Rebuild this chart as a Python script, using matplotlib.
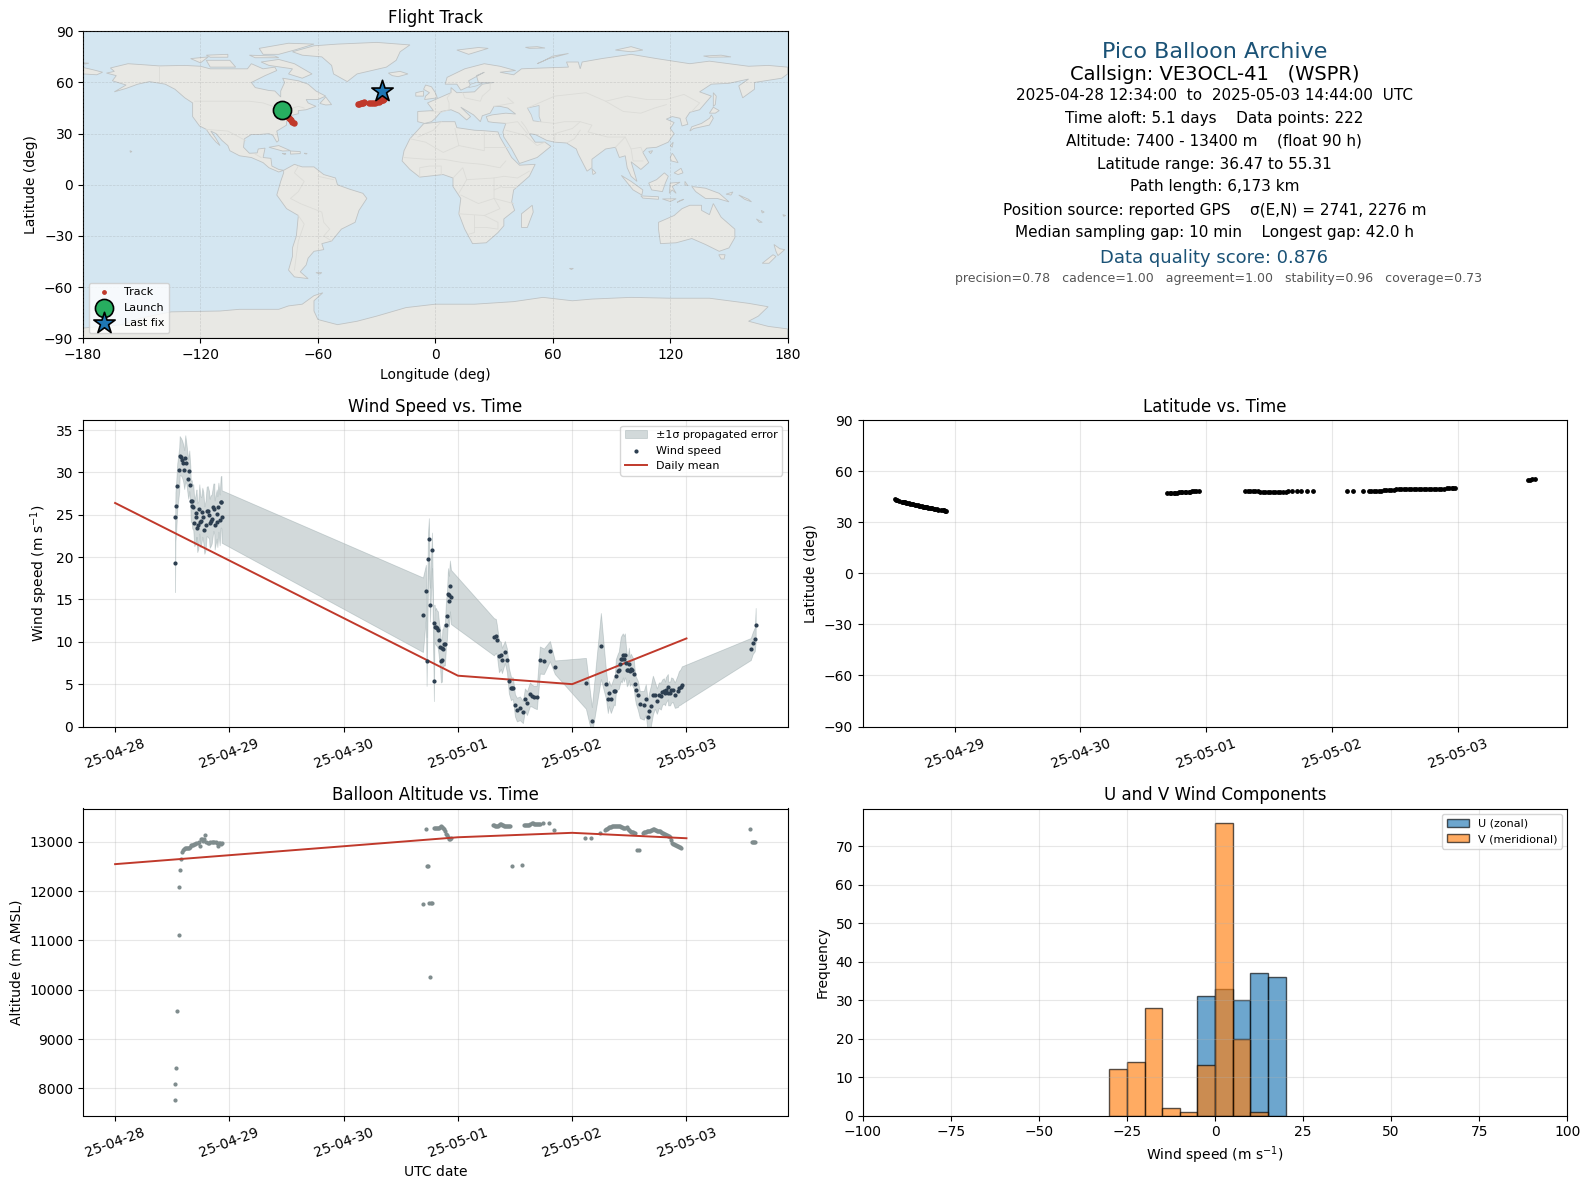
import pandas as pd
import numpy as np
import matplotlib
matplotlib.use("Agg")
import matplotlib.pyplot as plt
import matplotlib.dates as mdates
from matplotlib.patches import Polygon

# days since 2025-04-28 00:00 UTC
wind_days = [.524,.528,.535,.544,.561,.565,.579,.588,.596,.605,.614,.623,.640,.649,.658,.662,.670,.675,.684,.693,
             .708,.712,.719,.728,.737,.746,.754,.763,.772,.781,.792,.801,.810,.822,.827,.836,.845,.860,.868,.871,
             .889,.895,.904,.915,.924,.930,.933,
             2.694,2.720,2.726,2.738,2.746,2.755,2.773,2.790,2.794,2.799,2.808,2.816,2.825,2.834,2.843,2.851,2.860,2.864,
             2.869,2.878,2.886,2.895,2.904,2.913,2.921,2.925,2.930,2.939,
             3.315,3.332,3.341,3.359,3.376,3.385,3.411,3.429,3.446,3.464,3.472,3.481,3.499,3.516,3.542,3.569,3.586,3.604,
             3.630,3.647,3.665,3.691,3.717,3.752,3.805,3.848,
             4.120,4.172,4.251,4.295,4.312,4.321,4.338,4.365,4.373,4.382,4.399,4.408,4.417,4.426,4.434,4.443,4.452,4.461,
             4.470,4.478,4.487,4.496,4.504,4.513,4.522,4.539,4.548,4.557,4.574,4.592,4.627,4.644,4.662,4.671,4.688,4.706,
             4.723,4.741,4.758,4.776,4.787,4.802,4.813,4.819,4.837,4.840,4.857,4.866,4.880,4.898,4.924,4.933,4.950,4.959,
             5.563,5.580,5.598,5.606]
wind_speed = [19.3,24.8,26.1,28.4,30.35,32.0,31.8,31.5,31.1,30.35,31.7,31.1,29.2,30.2,28.5,26.6,26.6,26.0,25.9,24.0,
              24.7,25.2,23.5,23.8,25.7,24.2,24.3,25.3,24.7,23.2,23.8,25.4,25.4,25.0,24.0,24.3,24.5,25.9,25.7,23.8,
              25.1,24.2,25.9,24.4,26.5,26.5,24.8,
              13.2,16.0,7.7,19.8,22.1,14.4,20.8,5.4,12.2,11.8,11.8,11.6,11.4,10.2,9.4,7.7,7.8,9.3,
              9.2,9.7,9.7,12.0,13.1,15.7,14.8,15.5,16.6,15.3,
              10.6,10.7,10.2,8.3,8.4,7.8,8.8,7.8,5.4,4.5,4.5,4.5,2.5,2.0,2.15,1.7,3.2,2.75,
              3.8,3.65,3.5,3.45,7.85,7.7,8.9,7.0,
              5.1,0.7,9.5,5.0,3.2,3.9,3.2,4.2,4.2,5.95,6.5,6.65,7.4,8.0,8.0,8.4,8.0,8.4,
              7.5,6.65,6.65,7.4,6.5,6.8,6.65,6.2,5.0,4.3,3.7,2.6,2.5,3.2,1.1,1.8,2.4,3.7,
              3.7,3.0,3.7,3.6,4.05,4.2,3.9,4.3,4.7,3.9,3.9,4.3,4.3,3.7,4.2,4.5,4.7,4.9,
              9.15,9.85,10.3,12.0]
wind_err = [3.4,2.9,2.9,2.7,2.6,2.3,2.2,2.2,2.2,2.3,2.7,2.4,2.3,2.4,2.3,2.4,2.5,2.6,2.7,2.7,
            2.9,2.8,2.9,2.8,2.9,3.0,2.8,2.9,3.0,2.8,2.9,2.9,3.0,2.8,2.9,3.0,2.9,2.8,3.0,2.9,
            2.9,3.0,2.9,3.0,3.0,3.1,3.1,
            4.4,3.1,2.9,3.0,2.5,2.0,2.1,2.4,2.2,2.0,2.2,2.1,2.2,2.1,2.2,2.5,2.5,2.2,
            2.3,2.4,2.5,2.7,2.8,3.0,3.0,3.1,3.0,3.2,
            2.2,2.0,1.8,1.9,1.6,1.5,1.3,1.4,1.5,1.4,1.3,1.3,1.3,1.4,1.4,1.3,1.3,1.4,
            1.4,1.3,1.3,1.4,1.6,1.5,1.2,0.8,
            3.0,1.6,3.9,1.7,1.6,1.5,1.6,1.6,1.7,2.0,2.1,2.2,2.4,2.6,2.8,2.6,2.7,2.6,
            2.0,1.9,1.7,1.9,1.7,1.8,1.7,1.7,1.6,1.6,1.7,1.6,1.7,1.8,1.9,2.1,2.4,2.3,
            1.6,1.5,1.5,1.6,1.5,1.5,1.4,1.5,1.5,1.4,1.4,1.5,1.4,1.5,1.9,2.0,2.1,2.2,
            1.3,1.3,1.4,2.0]

daily_days = [0, 2, 3, 4, 5]
daily_wind = [26.4, 12.8, 6.0, 5.0, 10.4]
daily_alt = [12545, 12908, 13090, 13180, 13070]

alt_days = [.526,.528,.535,.544,.561,.563,.570,.579,.588,.596,.605,.614,.623,.632,.640,.649,.658,.667,.675,.684,.693,
            .702,.711,.728,.737,.746,.754,.763,.772,.781,.790,.798,.810,.822,.833,.845,.857,.868,.880,.892,.901,.910,.921,.930,.939,
            2.693,2.719,2.728,2.737,2.746,2.754,2.763,2.772,2.789,2.798,2.807,2.816,2.825,2.833,2.842,2.851,2.860,2.868,2.877,2.886,
            2.895,2.904,2.912,2.921,2.930,2.939,
            3.309,3.318,3.327,3.335,3.344,3.353,3.362,3.370,3.379,3.388,3.397,3.405,3.414,3.423,3.432,3.440,3.449,3.458,
            3.475,3.563,3.580,3.589,3.598,3.606,3.615,3.624,3.633,3.650,3.659,3.668,3.676,3.685,3.694,3.703,3.711,3.720,3.746,3.799,3.843,
            4.114,4.166,4.245,4.289,4.297,4.306,4.315,4.324,4.332,4.341,4.350,4.359,4.367,4.376,4.385,4.394,4.402,4.411,4.420,4.429,
            4.437,4.446,4.455,4.464,4.481,4.490,4.499,4.507,4.516,4.525,4.534,4.542,4.551,4.569,4.586,
            4.621,4.630,4.639,4.647,4.656,4.665,4.673,4.682,4.691,4.700,4.708,4.717,4.726,4.735,4.743,4.752,4.761,4.770,4.778,4.787,
            4.796,4.805,4.813,4.822,4.831,4.840,4.848,4.857,4.866,4.875,4.883,4.892,4.901,4.910,4.918,4.927,4.936,4.945,4.954,
            5.557,5.574,5.583,5.592,5.601]
altitude = [7760,8080,8405,9560,11100,12075,12420,12640,12785,12830,12850,12870,12880,12880,12880,12880,12900,12925,12940,12940,12950,
            12950,12965,12965,12990,12920,13050,13050,13020,13050,13130,13000,12980,12980,12990,12990,12990,12990,12995,12980,12910,12980,12965,12945,12965,
            11730,13250,12500,12500,11750,10250,11750,11750,13285,13285,13285,13270,13270,13285,13300,13320,13300,13270,13250,13210,
            13150,13130,13090,13050,13050,13070,
            13340,13340,13325,13315,13315,13325,13340,13360,13365,13340,13330,13320,13320,13320,13320,13320,13320,13320,
            12505,12525,13340,13340,13340,13340,13340,13345,13350,13370,13370,13360,13360,13360,13360,13360,13360,13360,13380,13380,13235,
            13075,13075,13170,13235,13250,13265,13275,13290,13297,13305,13310,13312,13318,13318,13318,13318,13318,13310,13310,13305,
            13290,13270,13270,13270,13290,13255,13240,13220,13195,13190,13190,13175,13175,12830,12830,
            13175,13195,13195,13200,13210,13210,13215,13220,13235,13240,13250,13250,13240,13235,13215,13210,13210,13210,13195,13175,
            13170,13160,13155,13140,13135,13125,13115,13100,13035,12965,12950,12950,12935,12925,12915,12905,12895,12885,12870,
            13257,13000,13000,13000,13000]

lat_days = [.524,.535,.544,.561,.579,.588,.596,.605,.614,.623,.640,.649,.658,.670,.684,.693,.708,.719,.728,.737,.746,.754,.763,.772,.781,
            .792,.801,.810,.822,.836,.845,.860,.871,.889,.904,.915,.924,.933,
            2.69,2.71,2.72,2.74,2.75,2.77,2.78,2.80,2.81,2.83,2.84,2.86,2.87,2.89,2.90,2.92,2.94,
            3.31,3.33,3.35,3.37,3.39,3.41,3.43,3.45,3.47,3.49,3.51,3.53,3.55,3.57,3.59,3.61,3.63,3.65,3.68,3.72,3.75,3.80,3.85,
            4.115,4.164,4.243,4.29,4.31,4.33,4.35,4.37,4.39,4.41,4.43,4.45,4.47,4.49,4.51,4.53,4.55,4.57,4.59,4.61,4.63,4.65,4.67,
            4.69,4.71,4.73,4.75,4.77,4.79,4.81,4.83,4.85,4.87,4.89,4.91,4.93,4.95,4.96,4.98,
            5.56,5.57,5.59,5.61]
latitude = [43.4,43.1,42.9,42.5,42.1,41.9,41.7,41.6,41.4,41.2,41.0,40.8,40.7,40.4,40.2,40.1,39.8,39.6,39.5,39.3,39.2,39.1,39.0,38.8,38.7,
            38.5,38.4,38.3,38.1,37.9,37.8,37.6,37.4,37.2,37.0,36.9,36.7,36.5,
            47.1,47.1,47.2,47.3,47.3,47.4,47.5,47.6,47.6,47.7,47.8,47.9,48.0,48.1,48.2,48.2,48.3,
            48.3,48.3,48.3,48.3,48.2,48.2,48.0,47.9,47.7,47.6,47.6,47.5,47.6,47.6,47.7,47.8,48.0,48.1,48.2,48.2,48.2,48.2,48.2,
            48.2,48.2,48.2,48.1,48.1,48.1,48.2,48.3,48.5,48.6,48.7,48.7,48.8,49.1,49.2,49.3,49.3,49.3,49.3,49.3,49.3,49.4,49.4,
            49.4,49.4,49.5,49.5,49.5,49.5,49.5,49.5,49.6,49.6,49.7,49.9,50.0,50.1,50.2,50.2,
            54.7,55.0,55.2,55.3]

track_lon = [-78.5,-77.8,-77,-76.2,-75.5,-74.8,-74.1,-73.5,-73,-72.4,
             -39.7,-39,-38.2,-37.5,-36.8,-36.3,
             -33.8,-33,-32,-31,-30,-29,-28.2,-27.5,-26.8,-26.2,-27.3]
track_lat = [43.4,42.4,41.6,40.8,40,39.2,38.6,37.8,37.1,36.5,
             47.1,47.4,47.7,48,48.2,48.3,
             48,48,48.1,48.2,48.4,48.7,49.1,49.5,50,50.4,55.1]
launch_lon, launch_lat = -78.5, 43.6
last_lon, last_lat = -27.3, 55.1

hist_edges = list(range(-100, 105, 5))
u_left = [-5, 0, 5, 10, 15]
u_count = [31, 33, 30, 37, 36]
v_left = [-30, -25, -20, -15, -10, -5, 0, 5, 10]
v_count = [12, 14, 28, 2, 1, 13, 76, 20, 1]

info_lines = [
    ("Pico Balloon Archive", 16, "#1a5276", 51.5),
    ("Callsign: VE3OCL-41   (WSPR)", 14, "black", 74),
    ("2025-04-28 12:34:00  to  2025-05-03 14:44:00  UTC", 11, "black", 95),
    ("Time aloft: 5.1 days    Data points: 222", 11, "black", 118),
    ("Altitude: 7400 - 13400 m    (float 90 h)", 11, "black", 141),
    ("Latitude range: 36.47 to 55.31", 11, "black", 164),
    ("Path length: 6,173 km", 11, "black", 187),
    ("Position source: reported GPS    \u03c3(E,N) = 2741, 2276 m", 11, "black", 210),
    ("Median sampling gap: 10 min    Longest gap: 42.0 h", 11, "black", 233),
    ("Data quality score: 0.876", 13, "#1a5276", 258),
]
score_parts = "precision=0.78   cadence=1.00   agreement=1.00   stability=0.96   coverage=0.73"

# rough land outlines (lon, lat), no basemap package available here
land = {
    "north_america": [(-168,65.5),(-164,66.5),(-166,68.5),(-157,71),(-148,70.3),(-141,69.7),(-128,70),(-120,69.5),(-115,68),(-108,68),(-96,68),(-94,71),(-88,68),(-82,69),(-81,67),(-87,64),(-94,60),(-92,57),(-85,55.3),(-82,55),(-79,51.5),(-79,55),(-77,60),(-78,62.5),(-70,61),(-65,59),(-61,55),(-56,52),(-60,50),(-66,50),(-65,48),(-61,46),(-66,44),(-70,43.5),(-70,41.7),(-74,40.5),(-76,37),(-76,35),(-81,31.5),(-80,26),(-81,25),(-83,29),(-85,30),(-90,29.5),(-94,29.5),(-97.5,27),(-98,22),(-95,18.5),(-91,18.7),(-90.5,21),(-87,21.5),(-88,16),(-84,15.5),(-83.5,11),(-80,9),(-77.5,8.5),(-80,7.5),(-85,10),(-88,13),(-94,16),(-100,17),(-105,20),(-106,23),(-109,26),(-112,30),(-114.7,31.5),(-112,27),(-110,23),(-112,25),(-115,29),(-117,32.5),(-120.5,34.5),(-124,40),(-124,48),(-128,51),(-133,56),(-138,59),(-146,60.5),(-152,59),(-158,56.5),(-164,54.5),(-158,58.5),(-165,61),(-163,64)],
    "south_america": [(-77.5,8.5),(-72,12),(-68,10.5),(-62,10.5),(-57,6),(-51,4),(-50,0),(-44,-2.5),(-37,-5),(-35,-8),(-39,-15),(-41,-22),(-48,-26),(-53,-33),(-58,-34.5),(-57,-38),(-62,-39),(-65,-43),(-66,-47),(-69,-51),(-65,-55),(-72,-54),(-75,-50),(-73,-42),(-73,-37),(-71,-30),(-70,-18),(-76,-14),(-81,-6),(-80,-2),(-79,2),(-77.5,7)],
    "greenland": [(-73,78),(-68,76),(-58,75),(-53,70),(-52,65),(-45,60.5),(-40,65),(-25,69),(-20,73),(-18,78),(-13,82),(-30,83.5),(-50,82.5),(-62,81.5)],
    "africa": [(-6,35.8),(3,37),(10,37),(11,33.5),(20,32),(25,31.7),(32,31),(33,28),(36,22),(39,16),(43,11.5),(51,12),(48,5),(40,-3),(39,-10),(40.5,-15),(35,-20),(35,-24),(32,-28),(26,-34),(19,-34.5),(15,-26),(12,-17),(13,-8),(9,-1),(9,4),(4,6),(-4,5),(-8,4.5),(-13,9),(-17,14),(-16,20),(-13,27),(-9,32)],
    "eurasia": [(-9,37),(-9,43),(-1,43.5),(-4,48),(2,51),(8,54),(8,57),(11,54),(20,54.5),(24,59),(30,60),(22,60),(21,64),(25,66),(17,61),(18,58),(13,55.5),(11,59),(5,59),(6,63),(15,68),(25,71),(33,69.5),(41,67),(33,66),(40,64.5),(44,68),(55,68.5),(68,69),(67,72),(73,72),(74,68),(75,72),(85,74),(100,76.5),(113,74),(130,71),(140,72.5),(160,69.5),(170,70),(180,69),(180,65),(177,62.5),(163,60),(163,56),(157,51),(155,58),(160,62),(150,59.5),(141,59),(135,54.5),(141,52),(135,44),(130,42.5),(128,39),(129,35.5),(126,34.5),(125,39),(121,40),(118,38.5),(122,36.5),(120,33),(122,30),(119,25),(113,22),(108,21.5),(106,19),(109,13),(105,9),(100,13.5),(103,2),(100,5),(98,10),(97,17),(94,16),(92,22),(87,21),(80,15),(80,10),(77.5,8),(73,18),(72,21),(67,24.5),(61,25),(57,26),(51,29.5),(48,30),(51,25),(56,25),(59,22.5),(52,16),(43,12.5),(39,21),(35,28),(34.5,31),(36,36),(30,36.5),(27,37),(26,40),(29,41),(36,42),(41,41.5),(37,45),(33,46),(30,46),(28,42),(24,40.5),(23,37),(19.5,41),(13,45.5),(18,40),(16,38),(12,42),(8,44),(3,43),(0,39),(-2,37),(-5.5,36)],
    "australia": [(114,-22),(122,-18),(126,-14),(130,-12),(136,-12),(136,-15),(140,-17.5),(142,-11),(146,-19),(153,-26),(153,-31),(150,-37),(145,-39),(138,-35),(131,-31.5),(123,-34),(115,-34.5),(114,-26)],
    "antarctica": [(-180,-84),(-160,-82),(-150,-78),(-135,-74.5),(-110,-74),(-100,-73),(-80,-73),(-75,-71),(-68,-70),(-62,-65),(-57.5,-63.3),(-62,-68),(-62,-74),(-60,-79),(-50,-82),(-40,-80),(-30,-77),(-15,-72),(0,-70),(20,-70),(40,-68.5),(55,-66),(70,-68),(80,-67),(100,-66),(120,-66.5),(140,-66.5),(160,-69.5),(170,-71.5),(165,-77),(160,-80),(170,-83),(180,-84.5),(180,-90),(-180,-90)],
    "chukotka_west": [(-180,65),(-180,68.8),(-175,67.5),(-170,66),(-173,64.5)],
    "baffin": [(-80,73.5),(-72,71),(-66,67),(-63,65),(-68,62.5),(-75,65),(-73,68),(-85,70),(-89,72)],
    "victoria": [(-117,73),(-105,73),(-102,69),(-115,69)],
    "banks": [(-125,74),(-116,75),(-120,71.5)],
    "ellesmere": [(-90,80),(-75,83),(-62,82.5),(-72,79),(-80,76.5),(-88,76.5)],
    "devon": [(-95,76),(-82,75.5),(-80,74.5),(-92,74.5)],
    "melville": [(-117,76),(-106,76.5),(-106,74.8),(-115,74.8)],
    "newfoundland": [(-59,47.7),(-56,51.5),(-53,47),(-56,46.8)],
    "cuba": [(-85,22),(-80,23),(-74,20),(-78,19.8)],
    "hispaniola": [(-74,19.8),(-69,19.5),(-69,18.3),(-74,18)],
    "puerto_rico": [(-67,18.5),(-65.5,18.4),(-66,18)],
    "jamaica": [(-78.3,18.4),(-76.3,18.2),(-77,17.8)],
    "hawaii": [(-156,20),(-155,19.5),(-155.8,19)],
    "iceland": [(-24,65.5),(-18,66.5),(-14,65),(-19,63.4),(-22,64)],
    "uk": [(-5.5,50),(1,51),(0,54),(-2,57.5),(-5,58.5),(-6,56),(-3,54),(-5,52)],
    "ireland": [(-10,52),(-6,52),(-6,55),(-10,54)],
    "svalbard": [(11,79),(22,80.5),(27,80),(17,76.5)],
    "franz_josef": [(46,80.6),(52,81),(56,80.2),(48,80)],
    "novaya_zemlya": [(52,71),(58,74),(68,77),(60,75.5),(55,72.5)],
    "severnaya": [(92,79),(100,81),(106,79),(100,78)],
    "new_siberian": [(137,75.5),(146,76),(151,75),(140,74.8)],
    "wrangel": [(-180,71.5),(-177,71.3),(-179,70.8)],
    "japan": [(130,31.5),(131,34),(136,36),(140,39),(141,41),(142,39),(140,35),(136,34),(132,33)],
    "hokkaido": [(140,42),(142,45.5),(145,43.5),(143,42)],
    "sakhalin": [(142,46),(142,54),(143.5,52),(143,47)],
    "taiwan": [(120,23),(121.5,25),(121,22)],
    "hainan": [(109,19.5),(111,20),(110,18.3)],
    "luzon": [(120,16),(121,18.5),(122,17),(124,13),(120.5,14)],
    "mindanao": [(122,7),(125.5,9.7),(126.5,7),(124,6)],
    "borneo": [(109,1),(113,3),(117,7),(119,5),(117.5,1),(116,-4),(110.5,-3)],
    "sumatra": [(95,5.5),(100,2),(106,-3),(105.5,-6),(101,-3)],
    "java": [(105,-6.5),(114,-7),(114,-8.5),(106,-7.8)],
    "lesser_sunda": [(116,-8.3),(123,-8.2),(120,-9.8)],
    "timor": [(123.5,-10.3),(127,-8.5),(125,-9.2)],
    "sulawesi": [(119.5,-5),(120,1),(125,1.5),(121,-1),(123,-5),(121,-3)],
    "halmahera": [(127.5,2),(129,-0.5),(127.5,0)],
    "new_guinea": [(131,-1),(138,-2),(145,-5),(150,-10),(144,-8),(138,-8),(133,-4)],
    "new_britain": [(148.5,-5.5),(152,-4.2),(151,-6)],
    "solomons": [(155,-6),(160,-8.5),(161.5,-10),(158,-8.5)],
    "vanuatu": [(166.5,-15),(168,-16),(167,-16.5)],
    "new_caledonia": [(164,-20),(167,-22),(165.5,-22)],
    "fiji": [(177.5,-17.5),(179,-18),(178,-18.5)],
    "tasmania": [(144.8,-41),(148,-41),(147.5,-43.5),(146,-43.5)],
    "nz_north": [(173,-35),(176,-37.5),(178.5,-38),(175,-41.5),(174,-39)],
    "nz_south": [(172.5,-41),(174,-42),(170.5,-46),(167,-46)],
    "madagascar": [(49.5,-12),(50,-16),(47,-25),(44,-25),(44,-17)],
    "sri_lanka": [(80,9.5),(82,7),(80.5,6)],
    "falklands": [(-61,-51.5),(-58,-51.5),(-59,-52.3)],
    "kerguelen": [(68.5,-49),(70.5,-49),(69.5,-49.7)],
}
lakes = {
    "caspian": [(47,45),(53,46.5),(53,40),(54,37),(50,37.5),(49,41)],
    "baltic": [(17,57),(21,58),(24,59.5),(21,60),(18,59)],
}
borders = [
    [(-141,69.7),(-141,60.5)],
    [(-123,49),(-95,49),(-88,48),(-83,46),(-82,42.5),(-76,44),(-70,46),(-67,45)],
    [(-117,32.5),(-106,31.5),(-97,26)],
    [(-92,18),(-89,16)],
    [(-70,11),(-72,7),(-67,2),(-70,-4),(-74,-8),(-69,-11),(-58,-16),(-57,-22),(-54,-26),(-57,-30),(-53,-33)],
    [(-60,5),(-52,3)],
    [(-70,-18),(-67,-23),(-70,-33),(-72,-50)],
    [(-2,43),(3,42.5),(7,44),(7,48),(6,51),(8,54)],
    [(14,54),(15,51),(23,49),(24,52),(28,56),(28,60)],
    [(30,46),(40,48),(37,51)],
    [(47,45),(61,52),(77,54),(87,49),(98,52),(108,50),(118,50),(127,53),(135,48),(131,43)],
    [(87,49),(96,43),(105,42),(112,45),(118,47)],
    [(53,37),(61,36),(66,37),(74,37),(80,35),(78,31),(88,28),(97,28)],
    [(61,25),(61,30),(70,33),(74,37)],
    [(67,24.5),(71,27),(74,32)],
    [(92,22),(97,28),(100,21),(105,22),(106,19)],
    [(100,21),(101,14),(106,14)],
    [(36,36),(42,37),(47,30)],
    [(44,37),(46,34),(48,30)],
    [(36,32),(46,29),(52,23),(56,25)],
    [(-9,28),(-1,32),(3,37)],
    [(-13,27),(-5,25),(4,19),(12,23),(10,33)],
    [(12,23),(25,20),(25,31)],
    [(25,22),(37,22)],
    [(-16,16),(-5,15),(4,15),(14,13),(24,12),(33,10),(36,14)],
    [(-8,4.5),(-8,10),(-3,11),(3,11),(3,6)],
    [(9,4),(14,10),(16,3),(12,-5)],
    [(16,3),(30,4),(35,5),(42,4),(48,8)],
    [(30,4),(30,-8),(22,-11),(13,-6)],
    [(40,-11),(30,-8),(33,-14),(25,-18),(12,-17)],
    [(20,-18),(20,-28),(17,-29)],
    [(25,-18),(32,-22),(32,-26),(26,-25),(20,-25)],
    [(34,-1),(41,-1)],
    [(34,-1),(30,-3)],
]

xfmt = mdates.DateFormatter('%y-%m-%d')
start = pd.Timestamp('2025-04-28')


def to_dates(days):
    return start + pd.to_timedelta(np.array(days), unit='D')


def px_axes(fig, left, top, right, bottom):
    W, H = 1589.0, 1189.0
    return fig.add_axes([left / W, 1 - bottom / H, (right - left) / W, (bottom - top) / H])


def style_time(ax):
    ax.xaxis.set_major_locator(mdates.DayLocator())
    ax.xaxis.set_major_formatter(xfmt)
    ax.tick_params(axis='x', labelrotation=20)
    ax.grid(True, alpha=0.3)


fig = plt.figure(figsize=(15.89, 11.89), dpi=100)

# 1. Flight track
ax_map = px_axes(fig, 83, 31.3, 787.7, 338.3)
ax_map.set_facecolor('#d4e6f1')
for name, pts in land.items():
    ax_map.add_patch(Polygon(pts, closed=True, facecolor='#e8e8e4', edgecolor='#bfc3c4', lw=0.6, zorder=1))
for name, pts in lakes.items():
    ax_map.add_patch(Polygon(pts, closed=True, facecolor='#d4e6f1', edgecolor='#bfc3c4', lw=0.5, zorder=1.1))
for pts in borders:
    ax_map.plot([p[0] for p in pts], [p[1] for p in pts], color='#dcdcd8', lw=0.6, zorder=1.2)
ax_map.scatter(track_lon, track_lat, s=13, color='#c0392b', zorder=3, label='Track')
ax_map.scatter([launch_lon], [launch_lat], s=170, color='#27ae60', edgecolors='black', linewidths=1.2, zorder=4, label='Launch')
ax_map.scatter([last_lon], [last_lat], s=260, marker='*', color='#1f77b4', edgecolors='black', linewidths=1.2, zorder=5, label='Last fix')
ax_map.set_xlim(-180, 180)
ax_map.set_ylim(-90, 90)
ax_map.set_xticks(range(-180, 181, 60))
ax_map.set_yticks(range(-90, 91, 30))
ax_map.grid(True, color='gray', ls='--', lw=0.5, alpha=0.25, zorder=2)
ax_map.set_axisbelow(False)
ax_map.set_xlabel('Longitude (deg)')
ax_map.set_ylabel('Latitude (deg)')
ax_map.set_title('Flight Track', fontsize=12)
leg = ax_map.legend(loc='lower left', fontsize=8, framealpha=0.8)
leg.legend_handles[0].set_sizes([6])

# 2. Summary text
for txt, size, color, ypx in info_lines:
    fig.text(1214.3 / 1589, 1 - ypx / 1189, txt, ha='center', va='center', fontsize=size, color=color)
fig.text(1218.3 / 1589, 1 - 278.5 / 1189, score_parts, ha='center', va='center', fontsize=9, color='#555555')

# 3. Wind speed
ax_wind = px_axes(fig, 83, 420, 787.7, 726.5)
t = to_dates(wind_days)
ws = np.array(wind_speed)
we = np.array(wind_err)
ax_wind.fill_between(t, ws - we, ws + we, color='#7f9396', alpha=0.35, lw=0.6, label='\u00b11\u03c3 propagated error')
ax_wind.scatter(t, ws, s=4, color='#2c3e50', zorder=3, label='Wind speed')
ax_wind.plot(to_dates(daily_days), daily_wind, color='#c0392b', lw=1.4, label='Daily mean')
ax_wind.set_ylim(bottom=0, top=36.2)
ax_wind.set_ylabel('Wind speed (m s$^{-1}$)')
ax_wind.set_title('Wind Speed vs. Time', fontsize=12)
ax_wind.legend(loc='upper right', fontsize=8)
style_time(ax_wind)

# 4. Latitude
ax_lat = px_axes(fig, 862.8, 420, 1567.3, 726.5)
ax_lat.scatter(to_dates(lat_days), latitude, s=6, color='black')
ax_lat.set_ylim(-90, 90)
ax_lat.set_yticks(range(-90, 91, 30))
ax_lat.set_ylabel('Latitude (deg)')
ax_lat.set_title('Latitude vs. Time', fontsize=12)
style_time(ax_lat)

# 5. Altitude
ax_alt = px_axes(fig, 83, 808.5, 787.7, 1115.5)
ax_alt.scatter(to_dates(alt_days), altitude, s=4, color='#7f8c8d', zorder=3)
ax_alt.plot(to_dates(daily_days), daily_alt, color='#c0392b', lw=1.4, zorder=4)
ax_alt.set_ylim(7450, 13673)
ax_alt.set_ylabel('Altitude (m AMSL)')
ax_alt.set_xlabel('UTC date')
ax_alt.set_title('Balloon Altitude vs. Time', fontsize=12)
style_time(ax_alt)

# 6. U / V histogram
ax_hist = px_axes(fig, 862.8, 808.5, 1567.3, 1115.5)
ax_hist.bar(u_left, u_count, width=5, align='edge', color='#1f77b4', alpha=0.65, edgecolor='black', label='U (zonal)')
ax_hist.bar(v_left, v_count, width=5, align='edge', color='#ff7f0e', alpha=0.65, edgecolor='black', label='V (meridional)')
ax_hist.set_xlim(hist_edges[0], hist_edges[-1])
ax_hist.set_xlabel('Wind speed (m s$^{-1}$)')
ax_hist.set_ylabel('Frequency')
ax_hist.set_title('U and V Wind Components', fontsize=12)
ax_hist.legend(loc='upper right', fontsize=8)
ax_hist.grid(True, alpha=0.3)

# keep date ranges in line with the reference
ax_wind.set_xlim(start + pd.Timedelta(days=-0.281), start + pd.Timedelta(days=5.886))
ax_alt.set_xlim(start + pd.Timedelta(days=-0.281), start + pd.Timedelta(days=5.886))
ax_lat.set_xlim(start + pd.Timedelta(days=0.27), start + pd.Timedelta(days=5.87))

plt.savefig('out.png', dpi=100)
